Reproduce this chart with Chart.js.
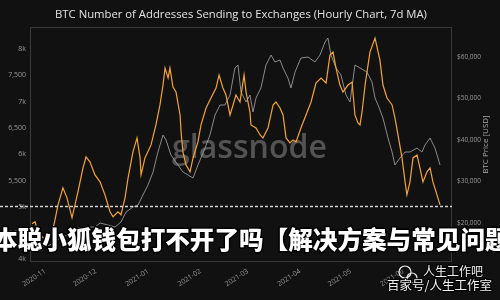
<!DOCTYPE html>
<html><head><meta charset="utf-8">
<script src="https://cdn.jsdelivr.net/npm/chart.js@4/dist/chart.umd.min.js"></script>
<style>html,body{margin:0;padding:0;background:#111111;}canvas{display:block}</style>
</head><body>
<canvas id="c" width="500" height="300" style="width:500px;height:300px"></canvas>
<script>
// x = days since 2020-10-23
const monthTicks = [9, 39, 70, 101, 129, 160, 190, 221];
const monthLabels = ["2020-11","2020-12","2021-01","2021-02","2021-03","2021-04","2021-05","2021-06"];

const leftTicks = [4000,4500,5000,5500,6000,6500,7000,7500,8000];
const leftTickLabels = ["4k","4,500","5k","5,500","6k","6,500","7k","7,500","8k"];
const rightTicks = [20000,30000,40000,50000,60000];
const rightTickLabels = ["$20,000","$30,000","$40,000","$50,000","$60,000"];

const addrDays = [1.2,3.0,4.7,7.7,12.4,14.8,16.6,19.5,21.9,24.9,28.4,31.4,33.2,35.5,38.5,41.5,44.4,47.4,49.2,52.1,53.9,56.3,58.1,61.0,63.4,65.2,65.8,68.1,71.7,74.6,77.0,78.8,80.0,81.8,82.9,84.7,86.5,88.9,89.5,90.6,92.4,94.8,96.6,99.5,101.3,104.3,107.2,110.2,112.0,114.3,116.1,118.5,120.3,122.0,124.4,126.8,128.0,130.3,130.9,133.9,136.3,138.0,141.0,144.0,145.7,148.1,149.9,151.7,154.0,155.8,157.6,160.5,163.5,166.5,169.4,172.4,175.4,177.7,179.5,181.3,183.6,185.4,188.4,190.8,192.5,194.3,195.5,196.7,198.5,201.4,204.4,207.3,209.1,211.5,214.5,216.2,218.0,220.4,222.2,223.3,225.1,226.9,229.3,231.0,232.8,235.2,237.0,238.7,241.1,242.9];
const addrValues = [4677,4715,4525,4411,4411,4753,5038,5360,5170,4791,5284,5740,5949,5854,5607,5474,5227,4905,4810,4905,4848,5170,5550,6044,6310,5930,5607,5930,6177,6557,6937,7316,7639,7449,7639,7278,7183,6747,6424,6044,5797,5664,5930,6234,6557,6880,7069,7259,7506,7259,7126,6747,6937,7126,6994,7506,7183,6804,6557,6500,6367,6310,6500,6937,6994,6880,6747,6310,6215,6272,6234,6500,6747,6994,7354,7449,7354,7886,7943,7639,7316,7183,7316,7373,6747,6595,6557,6804,7316,7943,8209,7791,7316,7069,6937,6690,6367,5930,5474,5227,5474,5930,5987,5740,5474,5664,5740,5474,5227,5038];

const priceDays = [0,5.9,11.8,17.8,23.7,28.4,33.2,38.5,41.5,46.2,50.4,53.9,56.9,61.0,64.0,66.9,69.9,72.9,75.8,78.8,80.6,83.5,87.7,90.6,93.6,96.6,99.5,103.7,106.6,109.6,112.6,115.5,118.5,121.4,123.2,125.0,128.0,130.3,132.1,133.9,136.8,139.8,142.8,145.1,148.1,149.9,152.8,154.6,157.0,160.5,164.7,168.8,171.8,174.8,176.5,178.3,181.3,184.2,187.2,189.6,192.5,195.5,199.6,202.6,204.4,206.2,209.1,212.1,214.5,216.2,219.2,222.2,225.1,229.3,232.2,234.0,237.0,239.9,241.7,242.9];
const priceValues = [13487,14451,14692,16379,17343,18789,19030,19030,19994,19512,19030,20235,22645,23850,24332,26742,29152,32285,37105,41202,40000,36382,33972,32285,31562,30839,33972,38069,41202,46022,48432,48432,50842,57349,58072,51565,49155,50842,46745,50119,52529,58072,60482,58795,59277,57349,54939,52529,56385,59759,60000,58795,60482,63615,64579,60482,57349,55662,50842,49155,58072,57349,56385,53975,50119,48432,45299,40479,37105,33972,35659,37105,37105,38069,37105,38792,40479,38069,35659,33972];

const titleText = "BTC Number of Addresses Sending to Exchanges (Hourly Chart, 7d MA)";
const rightAxisTitle = "BTC Price [USD]";
const watermarkText = "glassnode";
const overlayText = "中本聪小狐钱包打不开了吗【解决方案与常见问题】";
const footLine1 = "人生工作吧";
const footLine2 = "百家号/人生工作室";

function fitFont(ctx, text, family, weight, targetW) {
  ctx.font = weight + " 20px " + family;
  const w = ctx.measureText(text).width;
  return 20 * targetW / w;
}

const decor = {
  id: 'decor',
  beforeDatasetsDraw(chart) {
    const ctx = chart.ctx, a = chart.chartArea;
    ctx.save();
    ctx.strokeStyle = '#3a3a3a'; ctx.lineWidth = 1;
    ctx.strokeRect(Math.round(a.left)+0.5, Math.round(a.top)+0.5, Math.round(a.right-a.left)-1, Math.round(a.bottom-a.top)-1);
    const fs = fitFont(ctx, watermarkText, '"Open Sans", sans-serif', '600', 155);
    ctx.font = '600 ' + fs + 'px "Open Sans", sans-serif';
    ctx.fillStyle = 'rgba(110,110,110,0.72)';
    ctx.textAlign = 'left'; ctx.textBaseline = 'alphabetic';
    ctx.fillText(watermarkText, 172, 158);
    ctx.restore();
  },
  afterDraw(chart) {
    const ctx = chart.ctx, a = chart.chartArea;
    ctx.save();
    let fs = fitFont(ctx, titleText, '"Open Sans", sans-serif', '400', 372);
    ctx.font = '400 ' + fs + 'px "Open Sans", sans-serif';
    ctx.fillStyle = '#e2e2e2'; ctx.textAlign = 'center'; ctx.textBaseline = 'middle';
    ctx.fillText(titleText, 241, 15);
    ctx.save();
    ctx.translate(486, (a.top + a.bottom) / 2);
    ctx.rotate(-Math.PI / 2);
    ctx.font = '400 8px "Open Sans", sans-serif';
    ctx.fillStyle = '#a8a8a8';
    ctx.fillText(rightAxisTitle, 0, 0);
    ctx.restore();
    const yd = Math.round(chart.scales.y.getPixelForValue(5020)) + 0.5;
    ctx.setLineDash([3, 2]); ctx.strokeStyle = '#d0d0d0'; ctx.lineWidth = 1.3;
    ctx.beginPath(); ctx.moveTo(0, yd); ctx.lineTo(a.right, yd); ctx.stroke();
    ctx.setLineDash([]);
    ctx.font = '900 24.6px "Noto Sans CJK SC", sans-serif';
    ctx.textAlign = 'left'; ctx.textBaseline = 'middle';
    ctx.lineJoin = 'round';
    ctx.strokeStyle = '#000'; ctx.lineWidth = 3;
    ctx.strokeText(overlayText, -31.5, 240);
    ctx.fillStyle = '#ffffff';
    ctx.fillText(overlayText, -31.5, 240);
    ctx.strokeStyle = '#f0f0f0'; ctx.lineWidth = 1.2;
    ctx.beginPath(); ctx.arc(405, 272, 6, 0, Math.PI*2); ctx.stroke();
    ctx.beginPath(); ctx.arc(412, 278, 5, 0, Math.PI*2); ctx.stroke();
    ctx.font = '400 12px "Noto Sans CJK SC", sans-serif';
    ctx.strokeStyle = 'rgba(0,0,0,0.8)'; ctx.lineWidth = 2.5;
    ctx.strokeText(footLine1, 423, 271);
    ctx.fillStyle = '#f2f2f2';
    ctx.fillText(footLine1, 423, 271);
    ctx.font = '400 12.5px "Noto Sans CJK SC", sans-serif';
    ctx.strokeText(footLine2, 387, 285);
    ctx.fillText(footLine2, 387, 285);
    ctx.restore();
  }
};

const tickFont = { family: '"Open Sans", sans-serif', size: 7 };

new Chart(document.getElementById('c'), {
  type: 'line',
  data: {
    datasets: [
      {
        label: 'Addresses',
        data: addrDays.map((d, i) => ({ x: d, y: addrValues[i] })),
        yAxisID: 'y',
        borderColor: '#f6a430',
        borderWidth: 1.2,
        pointRadius: 0,
        tension: 0
      },
      {
        label: 'Price',
        data: priceDays.map((d, i) => ({ x: d, y: priceValues[i] })),
        yAxisID: 'y1',
        borderColor: 'rgba(160,160,165,0.85)',
        borderWidth: 1,
        pointRadius: 0,
        tension: 0
      }
    ]
  },
  options: {
    responsive: false,
    animation: false,
    devicePixelRatio: 1,
    layout: { padding: { top: 27, left: 0, right: 0, bottom: 0 } },
    plugins: { legend: { display: false }, tooltip: { enabled: false }, title: { display: false } },
    scales: {
      x: {
        type: 'linear', min: 0, max: 250,
        grid: { display: false, drawTicks: false },
        border: { display: false },
        afterBuildTicks: s => { s.ticks = monthTicks.map(v => ({ value: v })); },
        afterFit: s => { s.height = 38; },
        ticks: {
          autoSkip: false, minRotation: 33, maxRotation: 33, padding: 5,
          color: '#9a9a9a', font: tickFont,
          callback: v => { const i = monthTicks.indexOf(v); return i >= 0 ? monthLabels[i] : ''; }
        }
      },
      y: {
        position: 'left', min: 3950, max: 8420,
        grid: { display: false, drawTicks: false },
        border: { display: false },
        afterBuildTicks: s => { s.ticks = leftTicks.map(v => ({ value: v })); },
        afterFit: s => { s.width = 30; },
        ticks: {
          padding: 4, color: '#9a9a9a', font: tickFont,
          callback: v => { const i = leftTicks.indexOf(v); return i >= 0 ? leftTickLabels[i] : ''; }
        }
      },
      y1: {
        position: 'right', min: 10600, max: 67230,
        grid: { display: false, drawTicks: false },
        border: { display: false },
        afterBuildTicks: s => { s.ticks = rightTicks.map(v => ({ value: v })); },
        afterFit: s => { s.width = 48; },
        ticks: {
          padding: 5, color: '#9a9a9a', font: { family: '"Open Sans", sans-serif', size: 6.5 },
          callback: v => { const i = rightTicks.indexOf(v); return i >= 0 ? rightTickLabels[i] : ''; }
        }
      }
    }
  },
  plugins: [decor]
});
</script>
</body></html>
